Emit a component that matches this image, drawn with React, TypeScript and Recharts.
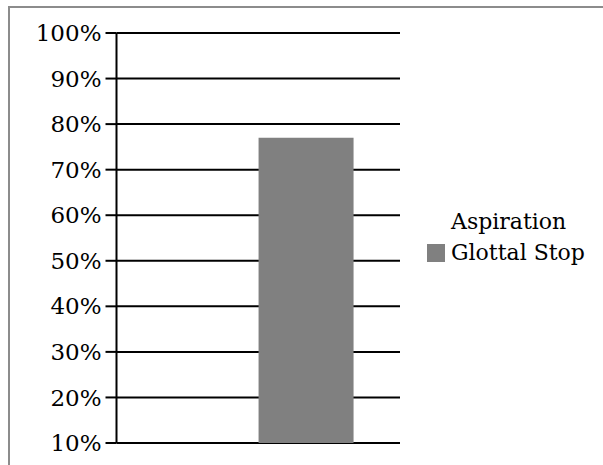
import React from 'react';
import { BarChart, Bar, XAxis, YAxis, CartesianGrid, Legend } from 'recharts';

const categories = [''];
const aspirationValues = [0];
const glottalStopValues = [77];
const yTicks = [10, 20, 30, 40, 50, 60, 70, 80, 90, 100];
const seriesNames = ['Aspiration', 'Glottal Stop'];
const seriesColors = ['none', '#808080'];

const data = categories.map((c, i) => ({
  name: c,
  aspiration: aspirationValues[i],
  glottal: glottalStopValues[i],
}));

const FONT = '"DejaVu Serif", serif';

const renderLegend = () => (
  <div style={{ fontFamily: FONT, fontSize: 22, color: '#000' }}>
    {seriesNames.map((n, i) => (
      <div key={n} style={{ display: 'flex', alignItems: 'center', height: 31 }}>
        <div
          style={{
            width: 18,
            height: 18,
            background: seriesColors[i] === 'none' ? 'transparent' : seriesColors[i],
            marginRight: 6,
          }}
        />
        <span style={{ whiteSpace: 'nowrap' }}>{n}</span>
      </div>
    ))}
  </div>
);

export default function App() {
  return (
    <div style={{ position: 'absolute', left: 0, top: 0, width: 603, height: 465, overflow: 'hidden', background: '#fff' }}>
      <div
        style={{
          position: 'absolute',
          left: 8,
          top: 6,
          width: 700,
          height: 600,
          borderTop: '2px solid #8c8c8c',
          borderLeft: '2px solid #8c8c8c',
        }}
      />
      <div style={{ position: 'absolute', left: 0, top: 0 }}>
        <BarChart
          width={603}
          height={465}
          data={data}
          margin={{ top: 33, bottom: 22, left: 0, right: 203 }}
          barCategoryGap="16.6%"
          barGap={0}
        >
          <CartesianGrid horizontal vertical={false} stroke="#000" strokeWidth={2} strokeOpacity={1} />
          <XAxis dataKey="name" hide />
          <YAxis
            width={116.5}
            domain={[10, 100]}
            ticks={yTicks}
            allowDataOverflow
            interval={0}
            tickFormatter={(v: number) => `${v}%`}
            axisLine={{ stroke: '#000', strokeWidth: 2 }}
            tickLine={{ stroke: '#000', strokeWidth: 2 }}
            tickSize={11}
            tickMargin={4}
            tick={{ fill: '#000', fontSize: 23, fontFamily: FONT }}
          />
          <Bar dataKey="aspiration" name={seriesNames[0]} fill="none" isAnimationActive={false} />
          <Bar dataKey="glottal" name={seriesNames[1]} fill={seriesColors[1]} isAnimationActive={false} />
          <Legend
            content={renderLegend}
            layout="vertical"
            align="center"
            verticalAlign="middle"
            wrapperStyle={{ position: 'absolute', left: 427, top: 206, width: 176 }}
          />
        </BarChart>
      </div>
    </div>
  );
}
